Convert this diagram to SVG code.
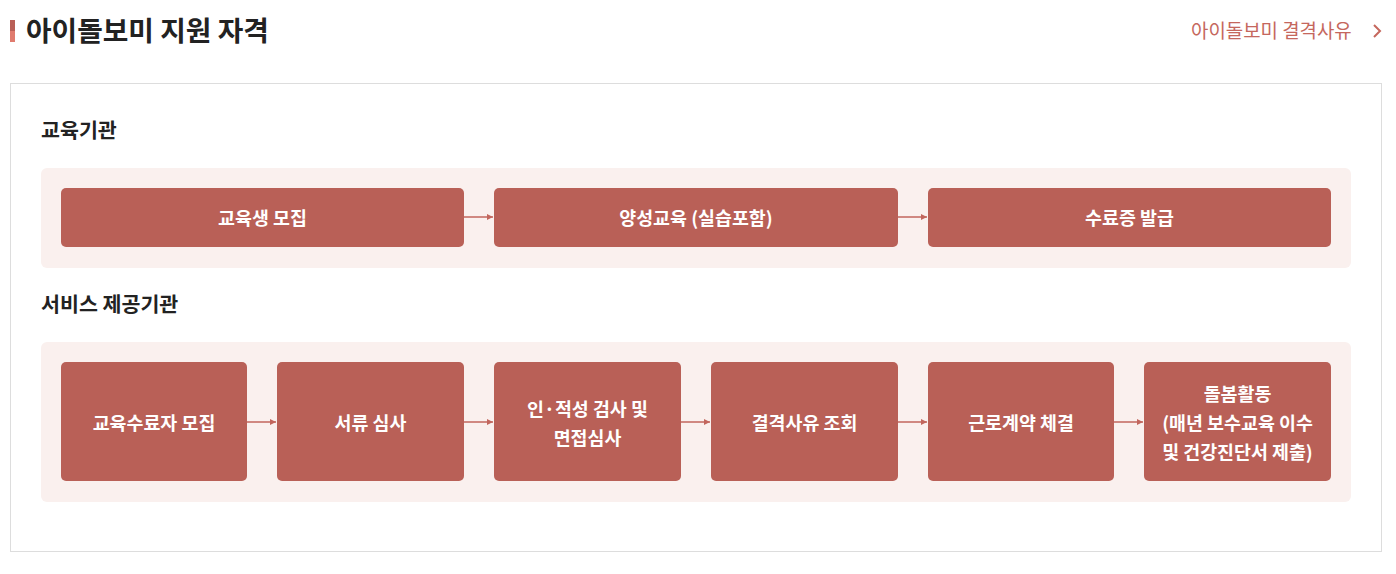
<svg xmlns="http://www.w3.org/2000/svg" width="1396" height="574" viewBox="0 0 1396 574">
<style>
.t{font-family:"Noto Sans CJK KR","Noto Sans",sans-serif}
.title{font-size:27.8px;font-weight:700;fill:#222}
.sec{font-size:20.6px;font-weight:700;fill:#222}
.link{font-size:18.9px;fill:#c5675d}
.panel{fill:#faf0ee}
.box{fill:#b96057}
.lbl{font-size:18.4px;font-weight:700;fill:#fff;text-anchor:middle;dominant-baseline:central}
.con{stroke:#c2665d;stroke-width:1.5;fill:none;marker-end:url(#ah)}
</style>
<defs>
<marker id="ah" viewBox="0 0 10 10" refX="10" refY="5" markerWidth="6" markerHeight="6" orient="auto" markerUnits="userSpaceOnUse"><path d="M0,0L10,5L0,10z" fill="#c2665d"/></marker>
</defs>
<rect width="1396" height="574" fill="#fff"/>
<g id="header">
<rect x="10" y="20" width="5" height="11" fill="#b95f56"/>
<rect x="10" y="31" width="5" height="11" fill="#e07b6e"/>
<text class="t title" x="26" y="40.5">아이돌보미 지원 자격</text>
<text class="t link" x="1191" y="37.5">아이돌보미 결격사유</text>
<path d="M1374,25l6,6l-6,6" stroke="#c5675d" stroke-width="2" fill="none"/>
</g>
<rect x="10.5" y="83.5" width="1371" height="468" fill="#fff" stroke="#ddd"/>
<text class="t sec" x="41" y="137.5">교육기관</text>
<rect class="panel" x="41" y="168" width="1310" height="100" rx="6"/>
<text class="t sec" x="41" y="311.5">서비스 제공기관</text>
<rect class="panel" x="41" y="342" width="1310" height="160" rx="6"/>
<g id="connectors">
<path class="con" d="M464,217H493"/>
<path class="con" d="M898,217H927"/>
<path class="con" d="M247,422H276"/>
<path class="con" d="M464,422H493"/>
<path class="con" d="M681,422H710"/>
<path class="con" d="M898,422H927"/>
<path class="con" d="M1114,422H1143"/>
</g>
<g id="n1"><rect class="box" x="61" y="188" width="403" height="59" rx="5"/><text class="t lbl" x="262.5" y="217">교육생 모집</text></g>
<g id="n2"><rect class="box" x="494" y="188" width="404" height="59" rx="5"/><text class="t lbl" x="696" y="217">양성교육 (실습포함)</text></g>
<g id="n3"><rect class="box" x="928" y="188" width="403" height="59" rx="5"/><text class="t lbl" x="1129.5" y="217">수료증 발급</text></g>
<g id="s1"><rect class="box" x="61" y="362" width="186" height="119" rx="5"/><text class="t lbl" x="154" y="422">교육수료자 모집</text></g>
<g id="s2"><rect class="box" x="277" y="362" width="187" height="119" rx="5"/><text class="t lbl" x="370.5" y="422">서류 심사</text></g>
<g id="s3"><rect class="box" x="494" y="362" width="187" height="119" rx="5"/><text class="t lbl" x="587.5" y="408">인·적성 검사 및</text><text class="t lbl" x="587.5" y="437">면접심사</text></g>
<g id="s4"><rect class="box" x="711" y="362" width="187" height="119" rx="5"/><text class="t lbl" x="804.5" y="422">결격사유 조회</text></g>
<g id="s5"><rect class="box" x="928" y="362" width="186" height="119" rx="5"/><text class="t lbl" x="1021" y="422">근로계약 체결</text></g>
<g id="s6"><rect class="box" x="1144" y="362" width="187" height="119" rx="5"/><text class="t lbl" x="1237.5" y="393">돌봄활동</text><text class="t lbl" x="1237.5" y="422">(매년 보수교육 이수</text><text class="t lbl" x="1237.5" y="451">및 건강진단서 제출)</text></g>
</svg>
